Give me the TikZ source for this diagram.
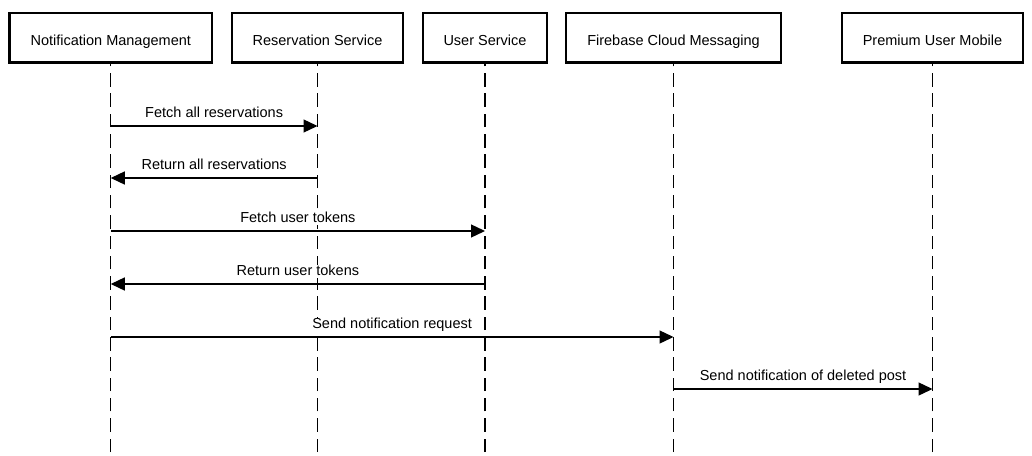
\documentclass[tikz,border=0pt]{standalone}
\usepackage{fontspec}
\setmainfont{Liberation Sans}
\usetikzlibrary{arrows.meta}

\tikzset{
	actor/.style={draw, line width=2.6pt, minimum height=49.5pt, inner sep=0pt, text height=15pt, text depth=0pt, font=\fontsize{14.5}{17}\selectfont},
	lifeline/.style={line width=1.2pt, dash pattern=on 13.5pt off 6.8pt},
	msg/.style={line width=1.3pt, -{Triangle[length=14pt,width=13pt]}},
	msglabel/.style={above=5pt, fill=white, inner sep=0pt, text depth=3pt, font=\fontsize{14.5}{17}\selectfont}
}

\begin{document}
\begin{tikzpicture}[x=1pt, y=-1pt]
	\useasboundingbox (0,0) rectangle (1032,455);
	\node [actor, minimum width=202.5pt] (nm) at (110.75,37.8) {Notification Management};
	\node [actor, minimum width=171pt] (rs) at (317.5,37.8) {Reservation Service};
	\node [actor, minimum width=124pt] (us) at (485,37.8) {User Service};
	\node [actor, minimum width=215pt] (fcm) at (673.5,37.8) {Firebase Cloud Messaging};
	\node [actor, minimum width=181pt] (pum) at (932.5,37.8) {Premium User Mobile};
	\coordinate (bottom) at (0,452);
	\foreach \a in {nm, rs, us, fcm, pum}
		\draw [lifeline] (\a |- bottom) -- (\a.south);
	\coordinate (m1) at (0,126);
	\coordinate (m2) at (0,178);
	\coordinate (m3) at (0,231);
	\coordinate (m4) at (0,284);
	\coordinate (m5) at (0,337);
	\coordinate (m6) at (0,389);
	\draw [msg] (nm |- m1) -- (rs |- m1) node [midway, msglabel] {Fetch all reservations};
	\draw [msg] (rs |- m2) -- (nm |- m2) node [midway, msglabel] {Return all reservations};
	\draw [msg] (nm |- m3) -- (us |- m3) node [midway, msglabel] {Fetch user tokens};
	\draw [msg] (us |- m4) -- (nm |- m4) node [midway, msglabel] {Return user tokens};
	\draw [msg] (nm |- m5) -- (fcm |- m5) node [midway, msglabel] {Send notification request};
	\draw [msg] (fcm |- m6) -- (pum |- m6) node [midway, msglabel] {Send notification of deleted post};
\end{tikzpicture}
\end{document}
